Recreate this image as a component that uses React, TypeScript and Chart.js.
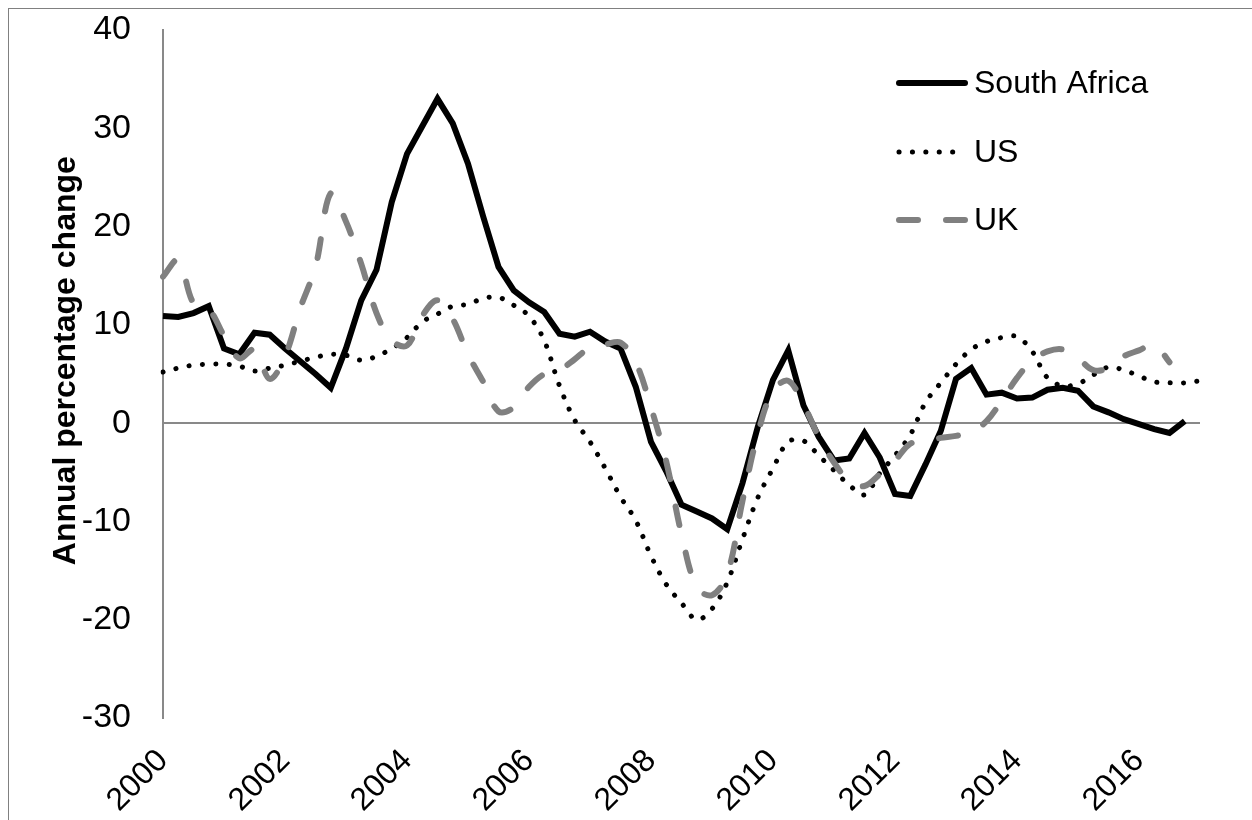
import React, { useEffect, useRef } from 'react';
import { Chart, registerables } from 'chart.js';

Chart.register(...registerables);

const NARROW = '"Liberation Sans Narrow", "Arial Narrow", "Liberation Sans", Arial, sans-serif';
const TITLE_FONT = '"Liberation Sans", Arial, sans-serif';

// Quarterly categories, 2000Q1 .. 2017Q1
const years = ['2000', '2001', '2002', '2003', '2004', '2005', '2006', '2007', '2008', '2009', '2010', '2011', '2012', '2013', '2014', '2015', '2016', '2017'];
const quarterNames = ['Q1', 'Q2', 'Q3', 'Q4'];
const categories: string[] = [];
years.forEach((y) => quarterNames.forEach((q) => categories.push(y + q)));
categories.length = 69;

const xTickYears = ['2000', '2002', '2004', '2006', '2008', '2010', '2012', '2014', '2016'];
const yTicks = [-30, -20, -10, 0, 10, 20, 30, 40];

const southAfrica = [
  10.9, 10.8, 11.2, 11.9, 7.6, 7.0, 9.2, 9.0, 7.6, 6.3,
  5.0, 3.6, 7.6, 12.5, 15.6, 22.5, 27.4, 30.2, 33.0, 30.5,
  26.4, 21.0, 15.9, 13.5, 12.3, 11.3, 9.1, 8.8, 9.3, 8.3,
  7.6, 3.7, -1.9, -4.9, -8.3, -9.0, -9.7, -10.8, -6.1, -0.4,
  4.4, 7.4, 1.8, -1.4, -3.8, -3.6, -1.0, -3.5, -7.2, -7.4,
  -4.2, -0.8, 4.5, 5.6, 2.9, 3.1, 2.5, 2.6, 3.4, 3.6,
  3.3, 1.7, 1.1, 0.4, -0.1, -0.6, -1.0, 0.2,
];

const us = [
  5.2, 5.6, 5.9, 6.0, 6.0, 5.8, 5.3, 5.6, 5.9, 6.3,
  6.7, 7.0, 6.9, 6.4, 6.8, 7.6, 8.7, 10.3, 11.1, 11.9,
  12.1, 12.7, 12.8, 12.0, 10.9, 8.4, 3.8, 0.3, -1.9, -4.6,
  -7.5, -9.9, -13.5, -16.4, -18.3, -20.0, -18.9, -16.2, -11.8, -7.6,
  -4.6, -1.9, -1.8, -3.3, -4.8, -6.3, -7.3, -5.1, -3.3, -1.2,
  2.1, 4.1, 6.0, 7.5, 8.3, 8.7, 8.8, 7.3, 4.6, 3.8,
  4.0, 4.9, 5.7, 5.4, 4.8, 4.2, 4.1, 4.1, 4.3,
];

const uk = [
  14.9, 16.6, 12.2, 11.6, 8.9, 6.6, 7.5, 4.5, 6.8, 11.7,
  15.9, 23.4, 20.5, 16.2, 11.2, 8.4, 7.9, 10.9, 12.5, 10.6,
  7.0, 4.2, 1.2, 1.6, 3.7, 5.0, 5.4, 6.5, 7.7, 8.0,
  8.2, 6.2, 1.6, -3.9, -11.3, -16.7, -17.5, -15.4, -7.9, -1.1,
  3.3, 4.3, 1.9, -1.4, -4.0, -5.9, -6.4, -5.2, -3.8, -2.1,
  -1.8, -1.5, -1.3, -0.9, 0.2, 2.3, 4.6, 6.4, 7.3, 7.5,
  6.6, 5.4, 5.6, 6.8, 7.4, 8.0, 6.2,
];

const seriesNames = ['South Africa', 'US', 'UK'];
const yAxisTitle = 'Annual percentage change';

const insideLegend = {
  id: 'insideLegend',
  afterDraw(chart: any) {
    const ctx = chart.ctx as CanvasRenderingContext2D;
    const x0 = 890;
    const x1 = 956;
    const textX = 965;
    const rowY = [74, 143, 211];
    ctx.save();
    chart.data.datasets.forEach((ds: any, i: number) => {
      const y = rowY[i];
      ctx.beginPath();
      ctx.strokeStyle = ds.borderColor;
      ctx.lineWidth = ds.borderWidth;
      ctx.lineCap = 'round';
      ctx.setLineDash(ds.borderDash || []);
      ctx.moveTo(x0, y);
      ctx.lineTo(i === 1 ? 946 : x1, y);
      ctx.stroke();
      ctx.setLineDash([]);
      ctx.fillStyle = '#000';
      ctx.font = '32px ' + NARROW;
      ctx.textAlign = 'left';
      ctx.textBaseline = 'middle';
      ctx.fillText(ds.label, textX, y + 1);
    });
    ctx.restore();
  },
};

export default function App() {
  const ref = useRef<HTMLCanvasElement>(null);

  useEffect(() => {
    if (!ref.current) return;
    const chart = new Chart(ref.current, {
      type: 'line',
      data: {
        labels: categories,
        datasets: [
          {
            label: seriesNames[0],
            data: southAfrica,
            borderColor: '#000000',
            borderWidth: 6,
            pointRadius: 0,
            tension: 0,
            order: 3,
          },
          {
            label: seriesNames[1],
            data: us,
            borderColor: '#000000',
            borderWidth: 5,
            borderDash: [0.1, 13.3],
            borderCapStyle: 'round',
            pointRadius: 0,
            tension: 0.35,
            order: 2,
          },
          {
            label: seriesNames[2],
            data: uk,
            borderColor: '#808080',
            borderWidth: 6,
            borderDash: [19, 28],
            borderCapStyle: 'round',
            pointRadius: 0,
            tension: 0.35,
            order: 1,
          },
        ] as any,
      },
      options: {
        animation: false,
        responsive: false,
        devicePixelRatio: 1,
        layout: { padding: { left: 38, top: 21, right: 52, bottom: 0 } },
        plugins: { legend: { display: false }, tooltip: { enabled: false } },
        scales: {
          x: {
            type: 'category',
            offset: false,
            grid: { display: false, drawTicks: false },
            border: { display: false },
            ticks: {
              autoSkip: false,
              minRotation: 45,
              maxRotation: 45,
              padding: 24,
              labelOffset: 0,
              color: '#000',
              font: { family: NARROW, size: 32 },
              callback: (_v: any, index: number) => {
                const lab = categories[index];
                const yr = lab.slice(0, 4);
                return lab.endsWith('Q1') && xTickYears.includes(yr) ? yr : null;
              },
            },
            afterFit: (s: any) => {
              s.height = 102;
              s.paddingLeft = 0;
              s.paddingRight = 0;
              s.paddingTop = 0;
              s.paddingBottom = 0;
            },
          },
          y: {
            min: yTicks[0],
            max: yTicks[yTicks.length - 1],
            afterBuildTicks: (s: any) => {
              s.ticks = yTicks.map((v) => ({ value: v }));
            },
            grid: {
              drawTicks: false,
              lineWidth: 2,
              color: (c: any) => (c.tick && c.tick.value === 0 ? '#898989' : 'rgba(0,0,0,0)'),
            },
            border: { display: true, color: '#898989', width: 2 },
            ticks: {
              padding: 32,
              color: '#000',
              font: { family: NARROW, size: 34 },
            },
            title: {
              display: true,
              text: '   ' + yAxisTitle,
              color: '#000',
              padding: { top: 0, bottom: 0 },
              font: { family: TITLE_FONT, size: 32, weight: 'bold', lineHeight: 1.2 },
            },
            afterFit: (s: any) => {
              s.width = 116;
              s.paddingLeft = 0;
              s.paddingRight = 0;
              s.paddingTop = 0;
              s.paddingBottom = 0;
            },
          },
        },
      },
      plugins: [insideLegend],
    });
    return () => chart.destroy();
  }, []);

  return (
    <div
      style={{
        position: 'absolute',
        left: 8,
        top: 8,
        width: 1244,
        height: 812,
        overflow: 'hidden',
        borderTop: '1px solid #808080',
        borderLeft: '1px solid #808080',
        boxSizing: 'border-box',
        background: '#fff',
      }}
    >
      <canvas ref={ref} width={1243} height={811} style={{ display: 'block', width: 1243, height: 811 }} />
    </div>
  );
}
